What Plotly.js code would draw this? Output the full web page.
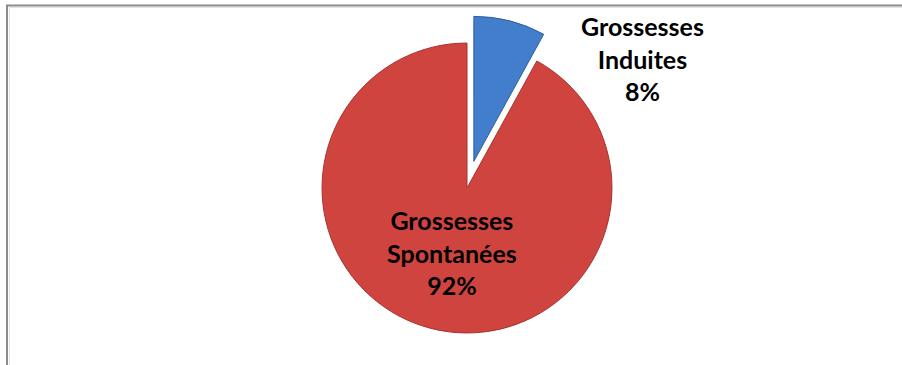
<!DOCTYPE html>
<html>
<head>
<meta charset="utf-8">
<script src="https://cdn.plot.ly/plotly-3.0.1.min.js"></script>
<style>
  html, body { margin: 0; padding: 0; background: #ffffff; }
  #chart { width: 902px; height: 365px; }
</style>
</head>
<body>
<div id="chart"></div>
<script>
// Data
const categories = ["Grossesses<br>Induites", "Grossesses<br>Spontanées"];
const values = [8, 92];
const percentLabels = ["8%", "92%"];
const sliceColors = ["#427ECB", "#D0443F"];
const edgeColors = ["#2F5E9E", "#A8332F"];
const pulls = [0.19, 0];

const trace = {
  type: "pie",
  labels: categories,
  values: values,
  sort: false,
  direction: "clockwise",
  rotation: 0,
  pull: pulls,
  textinfo: "none",
  hoverinfo: "label+percent",
  marker: { colors: sliceColors, line: { color: edgeColors, width: 1 } },
  domain: { x: [0.19774, 0.83774], y: [0.01233, 0.95753] },
  showlegend: false
};

const labelPos = [
  { x: 0.7118, y: 0.8384 },
  { x: 0.5011, y: 0.3070 }
];

const annotations = categories.map((c, i) => ({
  xref: "paper", yref: "paper",
  x: labelPos[i].x, y: labelPos[i].y,
  xanchor: "center", yanchor: "middle",
  showarrow: false,
  align: "center",
  text: c + "<br>" + percentLabels[i],
  font: { family: "Lato, 'DejaVu Sans', sans-serif", size: 25, color: "#000000", weight: "bold" }
}));

const layout = {
  width: 902, height: 365,
  margin: { l: 0, r: 0, t: 0, b: 0 },
  paper_bgcolor: "#ffffff",
  plot_bgcolor: "#ffffff",
  showlegend: false,
  annotations: annotations,
  shapes: [
    { type: "path", xref: "paper", yref: "paper",
      path: "M 0.00776,0 L 0.00776,0.98493 L 1,0.98493",
      line: { color: "#8C8C8C", width: 2 } },
    { type: "path", xref: "paper", yref: "paper",
      path: "M 0.01053,0 L 0.01053,0.97945 L 1,0.97945",
      line: { color: "#E2E2E2", width: 1 } }
  ]
};

Plotly.newPlot("chart", [trace], layout, { displayModeBar: false, staticPlot: true });
</script>
</body>
</html>
